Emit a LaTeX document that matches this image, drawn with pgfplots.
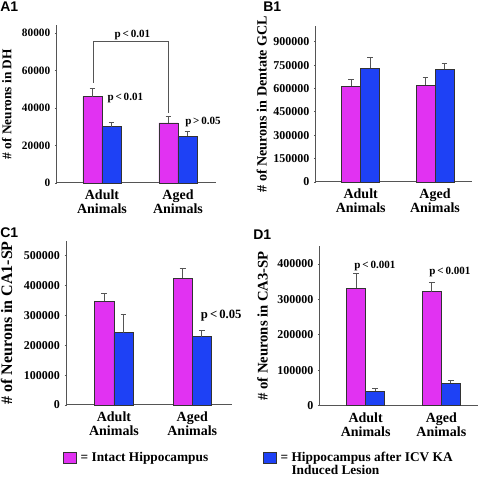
\documentclass[border=0pt]{standalone}
\usepackage{fontspec}
\setmainfont{Liberation Serif}
\newfontfamily\sansfont{Liberation Sans}
\usepackage{pgfplots}
\pgfplotsset{compat=1.18}
\usepackage{pgfplotstable}
\definecolor{mag}{RGB}{225,50,242}
\definecolor{blu}{RGB}{30,65,245}
\definecolor{axgray}{RGB}{85,85,85}

% A1: neurons in DH
\pgfplotstableread{
x y e
0 46000 4500
1 32000 3500
}\Aint
\pgfplotstableread{
x y e
0 30000 2400
1 25000 2300
}\Ales
% B1: dentate GCL
\pgfplotstableread{
x y e
0 615000 45000
1 621000 49000
}\Bint
\pgfplotstableread{
x y e
0 729000 68000
1 722000 39000
}\Bles
% C1: CA1-SP
\pgfplotstableread{
x y e
0 348000 26000
1 424000 33000
}\Cint
\pgfplotstableread{
x y e
0 242000 62000
1 229000 20000
}\Cles
% D1: CA3-SP
\pgfplotstableread{
x y e
0 331000 42500
1 321500 27500
}\Dint
\pgfplotstableread{
x y e
0 41000 8500
1 63000 8500
}\Dles

\newcommand\pfont{\bfseries\fontsize{8.3}{9}\selectfont}
\newcommand\legfont{\bfseries\fontsize{10}{11}\selectfont}
\newcommand\panfont{\sansfont\bfseries\fontsize{10.5}{11}\selectfont}

\pgfplotsset{
  panel/.style={
    scale only axis,
    anchor=south west,
    clip=false,
    axis x line=bottom, axis y line=left,
    axis line style={-, axgray, line width=0.75pt},
    ymin=0,
    xtick={0,1},
    xticklabels={{Adult\\Animals},{Aged\\Animals}},
    xticklabel style={align=center, font=\bfseries\fontsize{10.5}{10.5}\selectfont},
    tick align=outside, major tick length=1.5pt,
    xtick style={draw=none},
    ytick style={axgray, line width=0.6pt},
    scaled y ticks=false,
    /pgf/number format/fixed,
    /pgf/number format/precision=0,
    /pgf/number format/1000 sep={},
    /pgf/number format/assume math mode=true,
    yticklabel style={font=\bfseries\fontsize{9}{9}\selectfont},
    ylabel style={anchor=center},
  },
  errs/.style={
    /pgfplots/error bars/y dir=plus,
    /pgfplots/error bars/y explicit,
    /pgfplots/error bars/error mark options={rotate=90, axgray, mark size=2.2pt, line width=0.6pt},
    /pgfplots/error bars/error bar style={axgray, line width=0.6pt}},
  intact/.style={ybar, bar width=#1, bar shift=0pt, fill=mag, draw=black!80, line width=0.5pt, errs},
  lesion/.style={ybar, bar width=#1, bar shift=0pt, fill=blu, draw=black!80, line width=0.5pt, errs},
}

\begin{document}
\begin{tikzpicture}
\path[use as bounding box] (0pt,0pt) rectangle (360pt,357.75pt);

% ---------- A1 ----------
\begin{axis}[panel,
  at={(42.75pt,220.5pt)}, width=119.25pt, height=118.125pt,
  xmin=-0.592, xmax=1.5, ymax=84000,
  ytick={0,20000,40000,60000,80000},
  yticklabel style={font=\bfseries\fontsize{8.5}{8.5}\selectfont},
  ylabel={\bfseries\fontsize{10}{10}\selectfont \# of Neurons in DH},
  ylabel style={at={(axis description cs:-0.316,0.5)}},
]
\addplot[intact=0.25] table[x expr=\thisrow{x}-0.125,y=y,y error=e]{\Aint};
\addplot[lesion=0.25] table[x expr=\thisrow{x}+0.125,y=y,y error=e]{\Ales};
\draw[axgray, line width=0.7pt] (axis cs:-0.11,53500) -- (axis cs:-0.11,75400) -- (axis cs:0.872,75400) -- (axis cs:0.872,37500);
\node[font=\pfont, anchor=center, inner sep=0pt] at (axis cs:0.401,78900) {p\,<\,0.01};
\node[font=\pfont, anchor=west, inner sep=0pt] at (axis cs:0.07,45500) {p\,<\,0.01};
\node[font=\pfont, anchor=west, inner sep=0pt] at (axis cs:1.092,32400) {p\,>\,0.05};
\end{axis}

% ---------- B1 ----------
\begin{axis}[panel,
  at={(237pt,221.25pt)}, width=117pt, height=116.9pt,
  xmin=-0.602, xmax=1.498, ymax=1000000,
  ytick={0,150000,300000,450000,600000,750000,900000},
  ylabel={\bfseries\fontsize{10.6}{10.6}\selectfont \# of Neurons in Dentate GCL},
  ylabel style={at={(axis description cs:-0.348,0.5)}},
]
\addplot[intact=0.255] table[x expr=\thisrow{x}-0.1275,y=y,y error=e]{\Bint};
\addplot[lesion=0.255] table[x expr=\thisrow{x}+0.1275,y=y,y error=e]{\Bles};
\end{axis}

% ---------- C1 ----------
\begin{axis}[panel,
  at={(50pt,54pt)}, width=123.75pt, height=123.1pt,
  xmin=-0.604, xmax=1.503, ymax=550000,
  ytick={0,100000,200000,300000,400000,500000},
  ylabel={\bfseries\fontsize{12}{12}\selectfont \# of Neurons in CA1-SP},
  ylabel style={at={(axis description cs:-0.364,0.5)}},
  legend style={at={(axis description cs:-0.0224,-0.323)}, anchor=west,
    draw=none, fill=none, inner sep=0pt, outer sep=0pt,
    nodes={inner sep=0pt, font=\legfont, text height=7pt, text depth=2pt},
    column sep=3pt},
  legend cell align=left,
]
\addplot[forget plot, intact=0.245] table[x expr=\thisrow{x}-0.1225,y=y,y error=e]{\Cint};
\addplot[forget plot, lesion=0.245] table[x expr=\thisrow{x}+0.1225,y=y,y error=e]{\Cles};
\node[font=\bfseries\fontsize{9.5}{10}\selectfont, anchor=west, inner sep=0pt] at (axis cs:1.107,299000) {p\,<\,0.05};
\addlegendimage{legend image code/.code={\draw[fill=mag, draw=black!80, line width=0.5pt] (0pt,-4.1pt) rectangle (9.75pt,4.1pt);}}
\addlegendentry{= Intact Hippocampus}
\end{axis}

% ---------- D1 ----------
\begin{axis}[panel,
  at={(240pt,53.475pt)}, width=118.5pt, height=119.6pt,
  xmin=-0.604, xmax=1.485, ymax=450000,
  ytick={0,100000,200000,300000,400000},
  ylabel={\bfseries\fontsize{11}{11}\selectfont \# of Neurons in CA3-SP},
  ylabel style={at={(axis description cs:-0.364,0.5)}},
  legend style={at={(axis description cs:-0.361,-0.29)}, anchor=north west,
    draw=none, fill=none, inner sep=0pt, outer sep=0pt,
    nodes={inner sep=0pt, font=\legfont, text height=7pt, text depth=2pt},
    column sep=3pt, row sep=1.2pt},
  legend cell align=left,
]
\addplot[forget plot, intact=0.251] table[x expr=\thisrow{x}-0.1255,y=y,y error=e]{\Dint};
\addplot[forget plot, lesion=0.251] table[x expr=\thisrow{x}+0.1255,y=y,y error=e]{\Dles};
\node[font=\pfont, anchor=center, inner sep=0pt] at (axis cs:0.123,395000) {p\,<\,0.001};
\node[font=\pfont, anchor=center, inner sep=0pt] at (axis cs:1.115,377400) {p\,<\,0.001};
\addlegendimage{legend image code/.code={\draw[fill=blu, draw=black!80, line width=0.5pt] (0pt,-4.1pt) rectangle (9.75pt,4.1pt);}}
\addlegendentry{= Hippocampus after ICV KA}
\addlegendimage{empty legend}
\addlegendentry{\phantom{=}\ Induced Lesion}
\end{axis}

% panel labels
\node[anchor=west, inner sep=0pt, font=\panfont] at (0pt,352.7pt) {A1};
\node[anchor=west, inner sep=0pt, font=\panfont] at (197.25pt,352.7pt) {B1};
\node[anchor=west, inner sep=0pt, font=\panfont] at (0pt,183pt) {C1};
\node[anchor=west, inner sep=0pt, font=\panfont] at (189.75pt,181.5pt) {D1};
\end{tikzpicture}
\end{document}
